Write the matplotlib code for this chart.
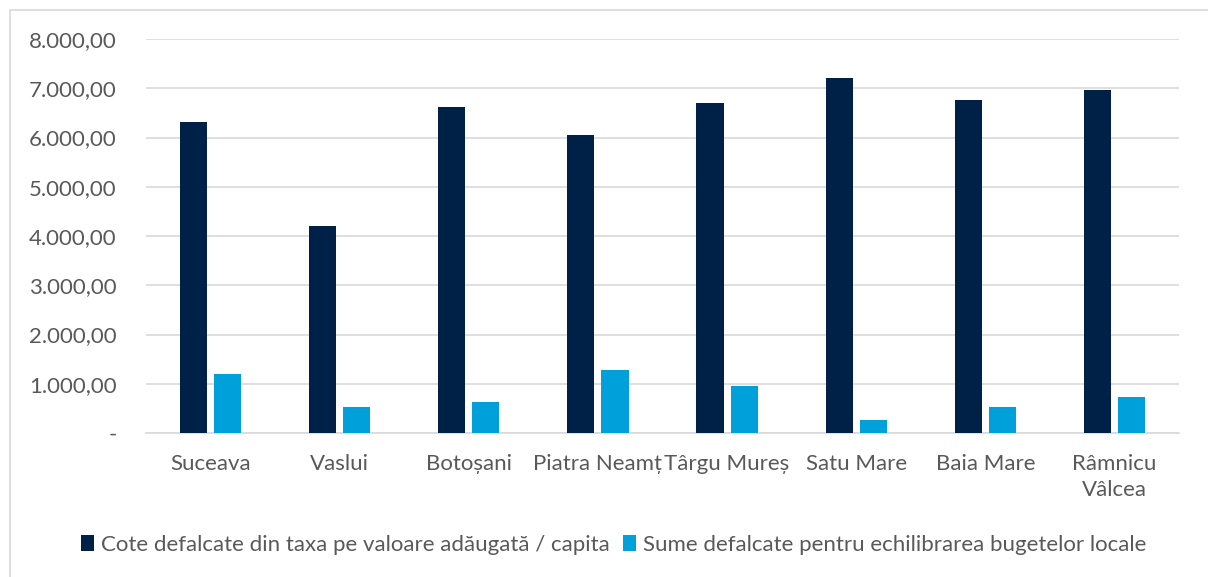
import matplotlib
matplotlib.use('Agg')
import matplotlib.pyplot as plt
from matplotlib.patches import Rectangle
from matplotlib.ticker import FuncFormatter
import numpy as np

orase = ['Suceava', 'Vaslui', 'Botoșani', 'Piatra Neamț', 'Târgu Mureș',
         'Satu Mare', 'Baia Mare', 'Râmnicu\nVâlcea']
cote_tva = [6310, 4200, 6620, 6045, 6705, 7200, 6755, 6955]
sume_echilibrare = [1205, 535, 630, 1270, 960, 270, 535, 730]

serii = ['Cote defalcate din taxa pe valoare adăugată / capita',
         'Sume defalcate pentru echilibrarea bugetelor locale']
culori = ['#002147', '#00A0DA']

plt.rcParams['font.family'] = ['Lato', 'DejaVu Sans']

fig = plt.figure(figsize=(12.08, 5.77), dpi=100)
ax = fig.add_axes([146 / 1208, 1 - 433 / 577, (1179 - 146) / 1208, (433 - 39) / 577])

# chenar gri in jurul graficului
fig.patches.append(Rectangle((10 / 1208, -0.1), 1.2, 1 - 10 / 577 + 0.1,
                             transform=fig.transFigure, fill=False,
                             edgecolor='#D9D9D9', linewidth=1.2))

x = np.arange(len(orase))
w = 0.21
ax.bar(x - 0.132, cote_tva, w, color=culori[0], label=serii[0], zorder=3)
ax.bar(x + 0.132, sume_echilibrare, w, color=culori[1], label=serii[1], zorder=3)

ax.set_xlim(-0.5, len(orase) - 0.5)
ax.set_ylim(0, 8000)
ax.set_yticks(np.arange(0, 8001, 1000))


def fmt_ro(v, pos):
    if v == 0:
        return '-'
    s = f'{v:,.2f}'
    return s.replace(',', 'X').replace('.', ',').replace('X', '.')


ax.yaxis.set_major_formatter(FuncFormatter(fmt_ro))
ax.set_xticks(x)
ax.set_xticklabels(orase, linespacing=1.4)
ax.tick_params(axis='both', length=0, labelsize=16, labelcolor='#595959')
ax.tick_params(axis='y', pad=21)
ax.tick_params(axis='x', pad=15)
ax.grid(axis='y', color='#D9D9D9', linewidth=1.2, zorder=0)
for s in ['top', 'right', 'left']:
    ax.spines[s].set_visible(False)
ax.spines['bottom'].set_color('#D9D9D9')
ax.spines['bottom'].set_linewidth(1.2)

fig.legend(loc='center', bbox_to_anchor=(0.508, 1 - 545 / 577), ncol=2,
           frameon=False, fontsize=16, labelcolor='#595959',
           handlelength=0.6, handleheight=0.7, handletextpad=0.3,
           columnspacing=0.6)

fig.savefig('out.png', dpi=100)
